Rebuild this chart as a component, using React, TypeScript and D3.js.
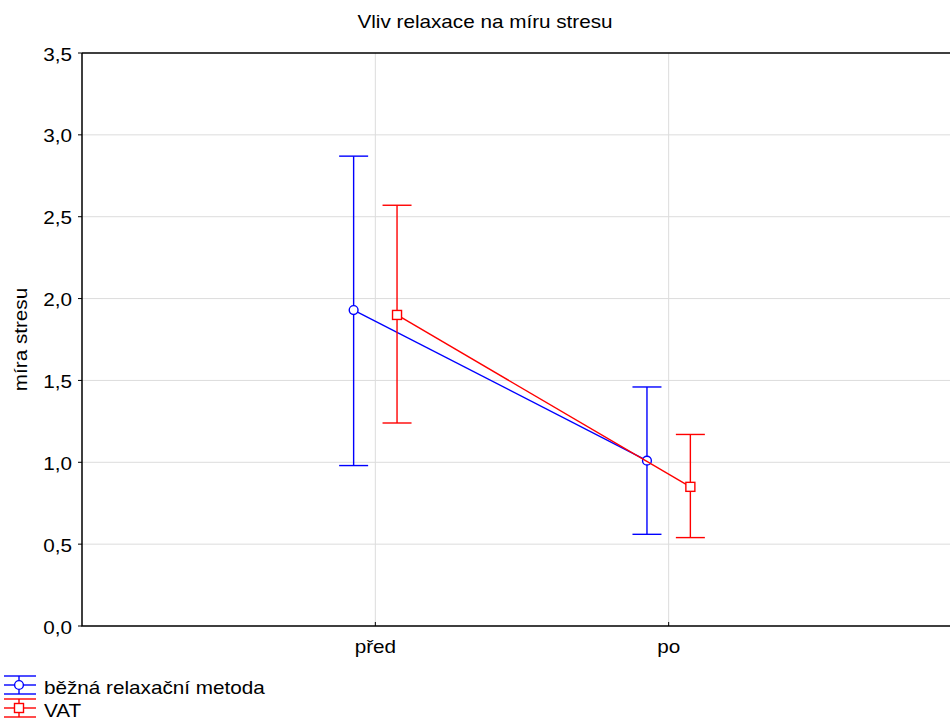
import React from "react";
import * as d3 from "d3";

const categories = ["před", "po"];
const seriesNames = ["běžná relaxační metoda", "VAT"];
const seriesColors = ["#0000ff", "#ff0000"];
const seriesMarkers = ["circle", "square"];
// means, lower and upper bounds for each series at each category
const blueMean = [1.93, 1.01];
const blueLow = [0.98, 0.56];
const blueHigh = [2.87, 1.46];
const redMean = [1.9, 0.85];
const redLow = [1.24, 0.54];
const redHigh = [2.57, 1.17];
const yTicks = [0, 0.5, 1, 1.5, 2, 2.5, 3, 3.5];

const series = [
  { mean: blueMean, low: blueLow, high: blueHigh },
  { mean: redMean, low: redLow, high: redHigh },
];

const font = "'Liberation Sans', Arial, sans-serif";
const fs = 18;
const sx = 1.15; // text in the reference is a bit wider than tall

function Marker(props: { kind: string; x: number; y: number; color: string }) {
  const { kind, x, y, color } = props;
  if (kind === "circle")
    return <circle cx={x} cy={y} r={4.4} fill="white" stroke={color} strokeWidth={1.4} />;
  return <rect x={x - 4.5} y={y - 4.5} width={9} height={9} fill="white" stroke={color} strokeWidth={1.4} />;
}

function Label(props: { x: number; y: number; anchor?: string; rotate?: boolean; children: React.ReactNode }) {
  const { x, y, anchor = "start", rotate = false } = props;
  return (
    <text
      transform={`translate(${x},${y})${rotate ? " rotate(-90)" : ""} scale(${sx},1)`}
      textAnchor={anchor}
      fontSize={fs}
    >
      {props.children}
    </text>
  );
}

export default function App() {
  const width = 950;
  const height = 722;
  const left = 82;
  const right = 962; // plot continues past the picture edge
  const top = 53;
  const bottom = 626;

  const yScale = d3.scaleLinear().domain([0, 3.5]).range([bottom, top]);
  const xScale = d3.scalePoint<string>().domain(categories).range([left, right]).padding(1);
  const offsets = [-21.7, 21.7];
  const capHalf = 14.5;
  const fmt = (v: number) => v.toFixed(1).replace(".", ",");

  return (
    <svg width={width} height={height} style={{ position: "absolute", left: 0, top: 0, fontFamily: font }}>
      <rect width={width} height={height} fill="white" />
      <Label x={485} y={28} anchor="middle">
        Vliv relaxace na míru stresu
      </Label>
      {/* grid */}
      {yTicks.slice(1, -1).map((t) => (
        <line key={t} x1={left} x2={right} y1={yScale(t)} y2={yScale(t)} stroke="#dcdcdc" strokeWidth={1} />
      ))}
      {categories.map((c) => (
        <line key={c} x1={xScale(c)} x2={xScale(c)} y1={top} y2={bottom} stroke="#dcdcdc" strokeWidth={1} />
      ))}
      {/* frame */}
      <path d={`M${left},${top} H${right} M${left},${top} V${bottom} H${right}`} stroke="black" strokeWidth={1.5} fill="none" />
      {/* y ticks */}
      {yTicks.map((t) => (
        <g key={t}>
          <line x1={left - 4} x2={left} y1={yScale(t)} y2={yScale(t)} stroke="black" />
          <Label x={72} y={yScale(t) + 7.5} anchor="end">
            {fmt(t)}
          </Label>
        </g>
      ))}
      {/* x ticks */}
      {categories.map((c) => (
        <g key={c}>
          <line x1={xScale(c)} x2={xScale(c)} y1={bottom} y2={bottom - 4} stroke="black" />
          <Label x={xScale(c) as number} y={653} anchor="middle">
            {c}
          </Label>
        </g>
      ))}
      <Label x={26.5} y={(top + bottom) / 2} anchor="middle" rotate>
        míra stresu
      </Label>
      {/* series */}
      {series.map((s, si) => {
        const color = seriesColors[si];
        const xs = categories.map((c) => (xScale(c) as number) + offsets[si]);
        const line = d3.line<number>().x((_, i) => xs[i]).y((d) => yScale(d));
        return (
          <g key={si}>
            {categories.map((c, i) => (
              <g key={c} stroke={color} strokeWidth={1.4}>
                <line x1={xs[i]} x2={xs[i]} y1={yScale(s.low[i])} y2={yScale(s.high[i])} />
                <line x1={xs[i] - capHalf} x2={xs[i] + capHalf} y1={yScale(s.low[i])} y2={yScale(s.low[i])} />
                <line x1={xs[i] - capHalf} x2={xs[i] + capHalf} y1={yScale(s.high[i])} y2={yScale(s.high[i])} />
              </g>
            ))}
            <path d={line(s.mean) || ""} stroke={color} strokeWidth={1.4} fill="none" />
            {categories.map((c, i) => (
              <Marker key={c} kind={seriesMarkers[si]} x={xs[i]} y={yScale(s.mean[i])} color={color} />
            ))}
          </g>
        );
      })}
      {/* legend */}
      {seriesNames.map((name, i) => {
        const cy = 685 + i * 23;
        const color = seriesColors[i];
        return (
          <g key={name}>
            <g stroke={color} strokeWidth={1.4}>
              <line x1={4} x2={36} y1={cy - 9} y2={cy - 9} />
              <line x1={4} x2={36} y1={cy} y2={cy} />
              <line x1={4} x2={36} y1={cy + 9} y2={cy + 9} />
              <line x1={19} x2={19} y1={cy - 9} y2={cy + 9} />
            </g>
            <Marker kind={seriesMarkers[i]} x={19} y={cy} color={color} />
            <Label x={44} y={cy + 8.5}>
              {name}
            </Label>
          </g>
        );
      })}
    </svg>
  );
}
